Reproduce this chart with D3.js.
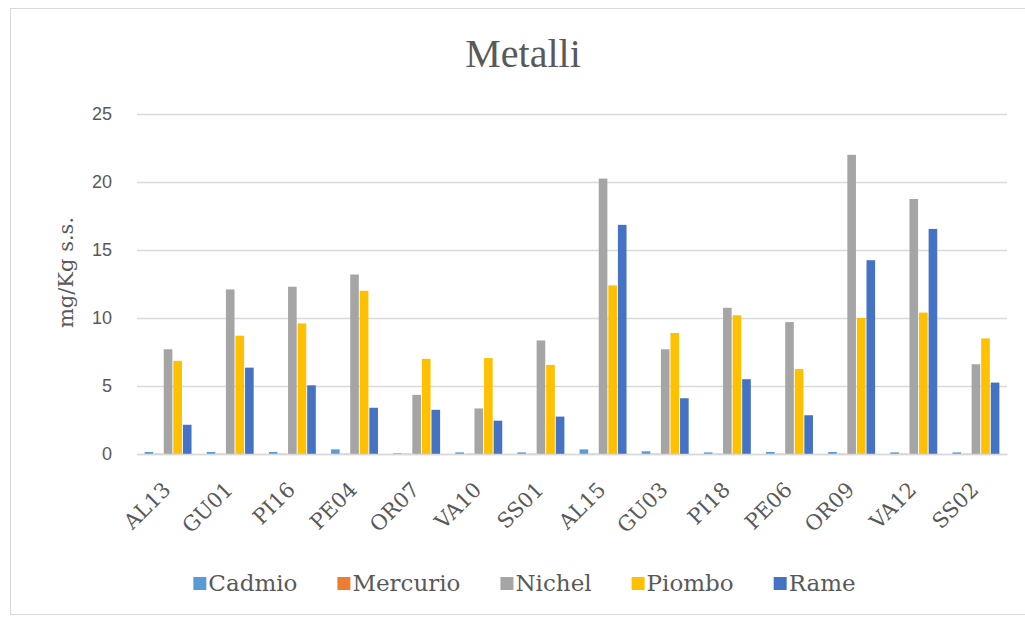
<!DOCTYPE html>
<html>
<head>
<meta charset="utf-8">
<script src="https://cdn.jsdelivr.net/npm/d3@7"></script>
<style>
  html, body { margin: 0; padding: 0; background: #fff; }
  svg { display: block; }
</style>
</head>
<body>
<svg id="chart" width="1025" height="621"></svg>
<script>
// Sampling stations
const stations = ["AL13", "GU01", "PI16", "PE04", "OR07", "VA10", "SS01",
                  "AL15", "GU03", "PI18", "PE06", "OR09", "VA12", "SS02"];

// Metal concentrations (mg/Kg s.s.) per station
const cadmio   = [0.15, 0.15, 0.15, 0.34, 0.05, 0.12, 0.12, 0.34, 0.20, 0.12, 0.15, 0.15, 0.12, 0.12];
const mercurio = [0.02, 0.02, 0.02, 0.02, 0.02, 0.02, 0.02, 0.02, 0.02, 0.02, 0.02, 0.02, 0.02, 0.02];
const nichel   = [7.7, 12.1, 12.3, 13.2, 4.35, 3.35, 8.35, 20.25, 7.7, 10.75, 9.7, 22.0, 18.75, 6.6];
const piombo   = [6.85, 8.7, 9.6, 12.0, 7.0, 7.05, 6.55, 12.4, 8.9, 10.2, 6.25, 10.0, 10.4, 8.5];
const rame     = [2.15, 6.35, 5.05, 3.4, 3.25, 2.45, 2.75, 16.85, 4.1, 5.5, 2.85, 14.25, 16.55, 5.25];

const seriesNames  = ["Cadmio", "Mercurio", "Nichel", "Piombo", "Rame"];
const seriesValues = [cadmio, mercurio, nichel, piombo, rame];
const seriesColors = ["#5B9BD5", "#ED7D31", "#A5A5A5", "#FFC000", "#4472C4"];

const yTicks = [0, 5, 10, 15, 20, 25];

const svg = d3.select("#chart");
const textGray = "#595959";
const gridGray = "#d9d9d9";
const serif = "'DejaVu Serif', serif";

// chart frame
svg.append("rect")
  .attr("x", 10.5).attr("y", 8.5)
  .attr("width", 1030).attr("height", 606)
  .attr("fill", "#fff")
  .attr("stroke", "#d9d9d9");

const plot = { left: 137, right: 1007, top: 114, bottom: 454 };

const y = d3.scaleLinear().domain([0, 25]).range([plot.bottom, plot.top]);

const x0 = d3.scaleBand()
  .domain(stations)
  .range([plot.left, plot.right])
  .paddingInner(0.245)
  .paddingOuter(0.1225);

const x1 = d3.scaleBand()
  .domain(seriesNames)
  .range([0, x0.bandwidth()])
  .paddingInner(0.1);

// horizontal gridlines + y tick labels
const yAxis = d3.axisLeft(y)
  .tickValues(yTicks)
  .tickSize(-(plot.right - plot.left))
  .tickPadding(25)
  .tickFormat(d3.format("d"));

const gy = svg.append("g")
  .attr("transform", `translate(${plot.left},0)`)
  .call(yAxis);
gy.select(".domain").remove();
gy.selectAll(".tick line").attr("stroke", gridGray).attr("stroke-width", 1.3);
gy.selectAll(".tick text")
  .attr("fill", textGray)
  .attr("font-family", "'Liberation Sans', Arial, sans-serif")
  .attr("font-size", 18);

// bars
const barData = [];
stations.forEach((s, i) => {
  seriesNames.forEach((name, k) => {
    barData.push({ station: s, series: name, value: seriesValues[k][i], color: seriesColors[k] });
  });
});

svg.append("g")
  .selectAll("rect")
  .data(barData)
  .join("rect")
  .attr("x", d => x0(d.station) + x1(d.series))
  .attr("width", x1.bandwidth())
  .attr("y", d => y(d.value))
  .attr("height", d => y(0) - y(d.value))
  .attr("fill", d => d.color);

// category axis (baseline + rotated labels)
const xAxis = d3.axisBottom(x0).tickSize(0).tickPadding(0);
const gx = svg.append("g")
  .attr("transform", `translate(0,${plot.bottom})`)
  .call(xAxis);
gx.select(".domain").attr("stroke", gridGray).attr("stroke-width", 1.3);
gx.selectAll(".tick text")
  .attr("fill", textGray)
  .attr("font-family", serif)
  .attr("font-size", 21)
  .attr("text-anchor", "end")
  .attr("dy", null)
  .attr("y", 0)
  .attr("transform", "translate(4,37) rotate(-45)");

// title
svg.append("text")
  .attr("x", 523)
  .attr("y", 67)
  .attr("text-anchor", "middle")
  .attr("fill", textGray)
  .attr("font-family", "'Liberation Serif', serif")
  .attr("font-size", 40)
  .text("Metalli");

// y-axis title
svg.append("text")
  .attr("transform", `translate(73,${(212 + 333) / 2}) rotate(-90)`)
  .attr("text-anchor", "middle")
  .attr("fill", textGray)
  .attr("font-family", serif)
  .attr("font-size", 21)
  .text("mg/Kg s.s.");

// legend
const legend = svg.append("g");
const items = legend.selectAll("g")
  .data(seriesNames)
  .join("g");
items.append("rect")
  .attr("width", 13).attr("height", 13)
  .attr("y", -14)
  .attr("fill", (d, i) => seriesColors[i]);
items.append("text")
  .attr("x", 15)
  .attr("y", 0)
  .attr("fill", textGray)
  .attr("font-family", serif)
  .attr("font-size", 23)
  .text(d => d);

const legendGap = 40;
let cursor = 0;
items.each(function () {
  const g = d3.select(this);
  g.attr("transform", `translate(${cursor},0)`);
  const w = 15 + g.select("text").node().getComputedTextLength();
  cursor += w + legendGap;
});
const legendWidth = cursor - legendGap;
legend.attr("transform", `translate(${524.5 - legendWidth / 2},591)`);
</script>
</body>
</html>
